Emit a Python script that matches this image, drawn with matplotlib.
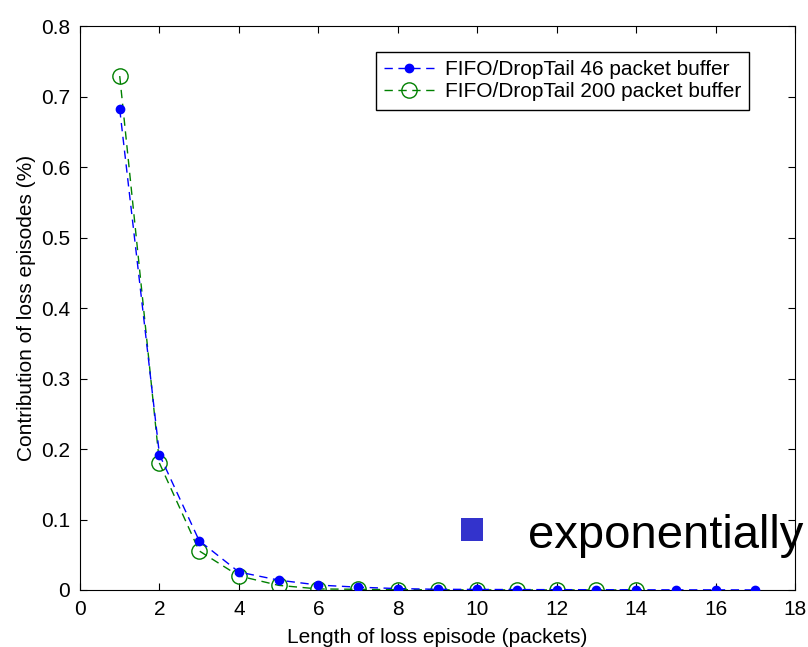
import matplotlib
matplotlib.use("Agg")
import matplotlib.pyplot as plt
from matplotlib.patches import Rectangle

plt.rcParams['font.family'] = ['Liberation Sans', 'DejaVu Sans']

# loss episode lengths and their contribution
len46 = list(range(1, 18))
contrib46 = [0.682, 0.192, 0.070, 0.0255, 0.014, 0.007, 0.004, 0.002, 0.001,
             0.0008, 0.0006, 0.0005, 0.0004, 0.0003, 0.0002, 0.0002, 0.0001]
len200 = list(range(1, 15))
contrib200 = [0.729, 0.180, 0.0555, 0.020, 0.0066, 0.0015, 0.001, 0.0005,
              0.0003, 0.0002, 0.0001, 0.0001, 0.0001, 0.0001]
labels = ['FIFO/DropTail 46 packet buffer', 'FIFO/DropTail 200 packet buffer']
xticks = list(range(0, 19, 2))
yticks = [0, 0.1, 0.2, 0.3, 0.4, 0.5, 0.6, 0.7, 0.8]

fig = plt.figure(figsize=(8.08, 6.47), dpi=100)
ax = fig.add_axes([0.099, 0.0881, 0.885, 0.8717])

ax.plot(len46, contrib46, '--', color='blue', marker='o', markersize=6,
        linewidth=1, dashes=(6, 4), label=labels[0], zorder=3)
ax.plot(len200, contrib200, '--', color='green', marker='o', markersize=11,
        markerfacecolor='none', markeredgewidth=1, linewidth=1, dashes=(6, 4),
        label=labels[1], zorder=2)

ax.set_xlim(0, 18)
ax.set_ylim(0, 0.8)
ax.set_xticks(xticks)
ax.set_yticks(yticks)
ax.set_yticklabels(['0', '0.1', '0.2', '0.3', '0.4', '0.5', '0.6', '0.7', '0.8'])
ax.tick_params(direction='in', length=5, top=True, right=True, labelsize=15, pad=7)
ax.set_xlabel('Length of loss episode (packets)', fontsize=15, labelpad=7)
ax.set_ylabel('Contribution of loss episodes (%)', fontsize=15, labelpad=4)

leg = ax.legend(loc='upper right', bbox_to_anchor=(0.9357, 0.954), borderaxespad=0,
                fontsize=15, fancybox=False, framealpha=1, edgecolor='black',
                handlelength=2.4, handletextpad=0.5, labelspacing=0.15, borderpad=0.4)
leg.get_frame().set_linewidth(1)

# overlaid slide bullet
fig.add_artist(Rectangle((0.5705, 0.1638), 0.0272, 0.0355, transform=fig.transFigure,
                         facecolor='#3333cc', edgecolor='none'))
fig.text(0.653, 0.153, 'exponentially', fontsize=34, va='baseline', ha='left',
         family=['Liberation Sans', 'DejaVu Sans'])

fig.savefig('out.png', dpi=100)
